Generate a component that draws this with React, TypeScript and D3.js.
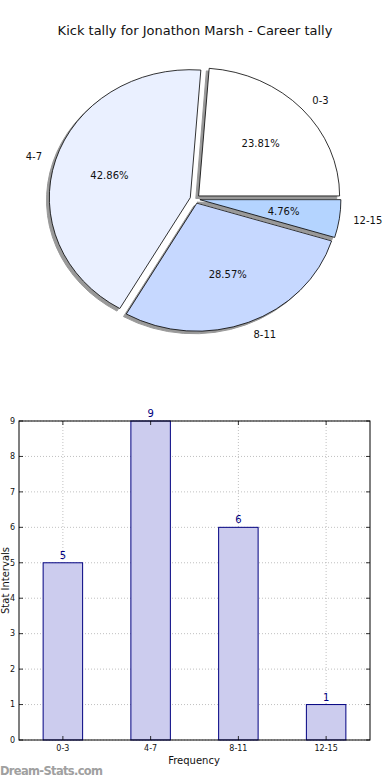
import React from 'react';
import * as d3 from 'd3';

const categories = ['0-3', '4-7', '8-11', '12-15'];
const counts = [5, 9, 6, 1];
const sliceColors = ['#ffffff', '#eaf0ff', '#c6d8ff', '#b4d4ff'];
const yTicks = [0, 1, 2, 3, 4, 5, 6, 7, 8, 9];

const W = 390;
const H = 780;
const font = 'DejaVu Sans, sans-serif';

// pie geometry (matplotlib style, squashed to an ellipse)
const cx = 195;
const cy = 199;
const rx = 141;
const ry = 128;
const explode = 0.035;

// bar axes box
const box = { left: 19, right: 370, top: 421, bottom: 740 };

const App = () => {
  const total = d3.sum(counts);
  // matplotlib starts at 0deg (east) and goes counterclockwise
  let acc = 0;
  const slices = counts.map((v, i) => {
    const t1 = (acc / total) * 2 * Math.PI;
    acc += v;
    const t2 = (acc / total) * 2 * Math.PI;
    const mid = (t1 + t2) / 2;
    const ox = cx + explode * rx * Math.cos(mid);
    const oy = cy - explode * ry * Math.sin(mid);
    return { i, v, t1, t2, mid, ox, oy };
  });

  const arc = d3.arc<any>().innerRadius(0).outerRadius(1);
  const pathFor = (s) =>
    arc({ startAngle: Math.PI / 2 - s.t2, endAngle: Math.PI / 2 - s.t1 });

  const x = d3
    .scaleBand()
    .domain(categories)
    .range([box.left, box.right])
    .paddingInner(0)
    .paddingOuter(0);
  const y = d3.scaleLinear().domain([0, 9]).range([box.bottom, box.top]);
  const barW = x.bandwidth() * 0.45;

  return (
    <svg
      width={W}
      height={H}
      style={{ position: 'absolute', left: 0, top: 0, background: '#fff' }}
      fontFamily={font}
    >
      <text x={195} y={35} textAnchor="middle" fontSize={13} fill="#111">
        Kick tally for Jonathon Marsh - Career tally
      </text>

      {/* shadows */}
      {slices.map((s) => (
        <path
          key={'sh' + s.i}
          d={pathFor(s)}
          transform={`translate(${s.ox - 0.02 * rx},${s.oy + 0.02 * ry}) scale(${rx},${ry})`}
          fill="#999999"
          stroke="#999999"
          strokeWidth={1}
          vectorEffect="non-scaling-stroke"
        />
      ))}
      {slices.map((s) => (
        <path
          key={'w' + s.i}
          d={pathFor(s)}
          transform={`translate(${s.ox},${s.oy}) scale(${rx},${ry})`}
          fill={sliceColors[s.i]}
          stroke="#000"
          strokeWidth={0.8}
          vectorEffect="non-scaling-stroke"
        />
      ))}
      {slices.map((s) => {
        const lx = s.ox + 1.1 * rx * Math.cos(s.mid);
        const ly = s.oy - 1.1 * ry * Math.sin(s.mid);
        const px = s.ox + 0.6 * rx * Math.cos(s.mid);
        const py = s.oy - 0.6 * ry * Math.sin(s.mid);
        return (
          <g key={'l' + s.i} fontSize={10} fill="#111">
            <text
              x={lx}
              y={ly}
              dy="0.35em"
              textAnchor={Math.cos(s.mid) > 0 ? 'start' : 'end'}
            >
              {categories[s.i]}
            </text>
            <text x={px} y={py} dy="0.35em" textAnchor="middle">
              {((s.v / total) * 100).toFixed(2) + '%'}
            </text>
          </g>
        );
      })}

      {/* bar chart grid */}
      <g stroke="#b0b0b0" strokeWidth={0.8} strokeDasharray="1,2">
        {yTicks.map((t) => (
          <line key={'gy' + t} x1={box.left} x2={box.right} y1={y(t)} y2={y(t)} />
        ))}
        {categories.map((c) => (
          <line
            key={'gx' + c}
            x1={x(c) + x.bandwidth() / 2}
            x2={x(c) + x.bandwidth() / 2}
            y1={box.top}
            y2={box.bottom}
          />
        ))}
      </g>

      {categories.map((c, i) => {
        const bx = x(c) + x.bandwidth() / 2;
        return (
          <g key={'b' + c}>
            <rect
              x={bx - barW / 2}
              y={y(counts[i])}
              width={barW}
              height={y(0) - y(counts[i])}
              fill="#ccccee"
              stroke="#000080"
              strokeWidth={1}
            />
            <text
              x={bx}
              y={y(counts[i]) - 4}
              textAnchor="middle"
              fontSize={10}
              fill="#000080"
            >
              {counts[i]}
            </text>
          </g>
        );
      })}

      {/* axes frame and ticks */}
      <rect
        x={box.left}
        y={box.top}
        width={box.right - box.left}
        height={box.bottom - box.top}
        fill="none"
        stroke="#000"
        strokeWidth={1}
      />
      <g stroke="#000" strokeWidth={0.8}>
        {yTicks.map((t) => (
          <g key={'ty' + t}>
            <line x1={box.left} x2={box.left + 4} y1={y(t)} y2={y(t)} />
            <line x1={box.right - 4} x2={box.right} y1={y(t)} y2={y(t)} />
          </g>
        ))}
        {categories.map((c) => {
          const bx = x(c) + x.bandwidth() / 2;
          return (
            <g key={'tx' + c}>
              <line x1={bx} x2={bx} y1={box.bottom} y2={box.bottom - 4} />
              <line x1={bx} x2={bx} y1={box.top} y2={box.top + 4} />
            </g>
          );
        })}
      </g>
      <g fontSize={8} fill="#111">
        {yTicks.map((t) => (
          <text key={'yl' + t} x={box.left - 4} y={y(t)} dy="0.35em" textAnchor="end">
            {t}
          </text>
        ))}
        {categories.map((c) => (
          <text
            key={'xl' + c}
            x={x(c) + x.bandwidth() / 2}
            y={box.bottom + 11}
            textAnchor="middle"
          >
            {c}
          </text>
        ))}
      </g>
      <text x={194} y={764} textAnchor="middle" fontSize={10} fill="#111">
        Frequency
      </text>
      <text
        transform={`translate(9,${(box.top + box.bottom) / 2}) rotate(-90)`}
        textAnchor="middle"
        fontSize={10}
        fill="#111"
      >
        Stat Intervals
      </text>
      <text x={0} y={775} fontSize={11.5} fontWeight="bold" fill="#a0a0a0" textLength={103}>
        Dream-Stats.com
      </text>
    </svg>
  );
};

export default App;
